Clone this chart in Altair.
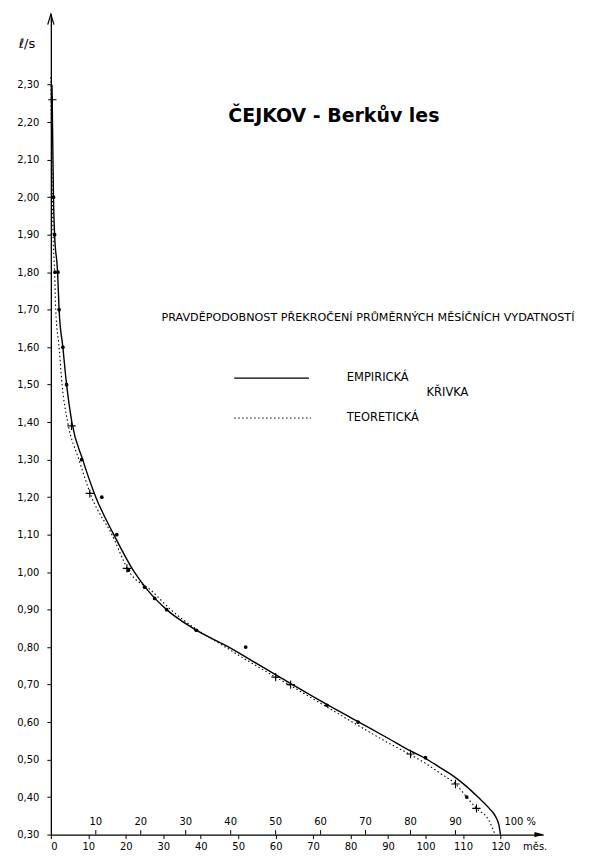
import altair as alt
import pandas as pd

# --- empirical curve (solid) ---
emp_x = [0.3, 0.5, 0.7, 1.0, 1.8, 2.2, 3.2, 4.2, 5.6, 8.5, 12.0, 16.8, 22.3, 26.0, 30.9,
         38.0, 47.5, 56.0, 64.5, 70.0, 80.0, 90.0, 96.0, 100.0, 104.0, 108.0, 111.0,
         114.0, 117.0, 118.6, 119.6, 120.0]
emp_y = [2.30, 2.15, 2.00, 1.90, 1.80, 1.70, 1.60, 1.50, 1.40, 1.30, 1.20, 1.10, 1.00, 0.95, 0.90,
         0.85, 0.80, 0.75, 0.70, 0.668, 0.612, 0.557, 0.523, 0.503, 0.478, 0.452, 0.428,
         0.400, 0.370, 0.350, 0.325, 0.30]

# --- theoretical curve (dotted) ---
teo_x = [0.0, 0.2, 0.4, 0.6, 1.0, 1.3, 2.2, 3.0, 4.5, 7.5, 10.9, 16.3, 21.0, 26.9, 32.0,
         38.5, 45.0, 52.0, 60.0, 64.0, 70.0, 80.0, 90.0, 96.0, 100.0, 104.0, 108.0,
         111.0, 113.6, 116.8, 118.6]
teo_y = [2.32, 2.15, 2.00, 1.90, 1.80, 1.70, 1.60, 1.50, 1.40, 1.30, 1.20, 1.10, 1.00, 0.95, 0.90,
         0.85, 0.81, 0.767, 0.72, 0.697, 0.662, 0.603, 0.545, 0.513, 0.49, 0.463, 0.435,
         0.40, 0.37, 0.34, 0.30]

# --- plotted points ---
dot_x = [0.7, 1.0, 1.1, 1.9, 2.2, 3.2, 4.2, 8.2, 13.6, 17.6, 20.7, 25.0, 27.7, 30.9,
         38.8, 52.0, 73.7, 82.0, 100.0, 111.0]
dot_y = [2.00, 1.90, 1.80, 1.80, 1.70, 1.60, 1.50, 1.30, 1.20, 1.10, 1.005, 0.96, 0.93, 0.90,
         0.845, 0.80, 0.645, 0.60, 0.505, 0.40]
cross_x = [0.4, 5.5, 10.4, 20.3, 60.0, 64.0, 96.0, 108.0, 113.6]
cross_y = [2.26, 1.39, 1.21, 1.01, 0.72, 0.70, 0.515, 0.435, 0.37]

# --- axes ---
y_ticks = [round(0.30 + 0.10 * i, 2) for i in range(21)]
x_ticks = list(range(0, 121, 10))
pct_ticks = [10, 20, 30, 40, 50, 60, 70, 80, 90]
X_MAX = 131.4
Y_MIN, Y_MAX = 0.30, 2.49

FONT = "DejaVu Sans"

emp = pd.DataFrame({"x": emp_x, "y": emp_y})
teo = pd.DataFrame({"x": teo_x, "y": teo_y})
dots = pd.DataFrame({"x": dot_x, "y": dot_y})
crosses = pd.DataFrame({"x": cross_x, "y": cross_y})
pct = pd.DataFrame({"p": pct_ticks, "x": [p * 1.2 for p in pct_ticks],
                    "lab": [str(p) for p in pct_ticks], "y": [Y_MIN] * len(pct_ticks),
                    "y2": [Y_MIN + 0.012] * len(pct_ticks)})

xs = alt.Scale(domain=[0, X_MAX], nice=False, zero=False)
ys = alt.Scale(domain=[Y_MIN, Y_MAX], nice=False, zero=False)

xax = alt.Axis(values=x_ticks, format="d", title=None, grid=False, domainColor="black",
               domainWidth=1.2, tickColor="black", tickSize=4, labelFont=FONT,
               labelFontSize=10, labelColor="black", labelPadding=3)
yax = alt.Axis(values=y_ticks, title=None, grid=False, domainColor="black", domainWidth=1.3,
               tickColor="black", tickSize=4, labelFont=FONT, labelFontSize=10,
               labelColor="black", labelPadding=8,
               labelExpr="replace(format(datum.value, '.2f'), '.', ',')")

base_emp = alt.Chart(emp).mark_line(color="black", strokeWidth=1.4, interpolate="monotone").encode(
    x=alt.X("x:Q", scale=xs, axis=xax),
    y=alt.Y("y:Q", scale=ys, axis=yax),
    order="x:Q",
)
line_teo = alt.Chart(teo).mark_line(color="black", strokeWidth=1.1, strokeDash=[1.5, 2.5],
                                    interpolate="monotone").encode(
    x=alt.X("x:Q", scale=xs), y=alt.Y("y:Q", scale=ys), order="x:Q")

pts = alt.Chart(dots).mark_point(filled=True, color="black", size=14, opacity=1).encode(
    x=alt.X("x:Q", scale=xs), y=alt.Y("y:Q", scale=ys))
crs = alt.Chart(crosses).mark_point(shape="M-1,0L1,0M0,-1L0,1", filled=False, color="black",
                                    size=70, strokeWidth=1.1, opacity=1).encode(
    x=alt.X("x:Q", scale=xs), y=alt.Y("y:Q", scale=ys))

pct_rules = alt.Chart(pct).mark_rule(color="black", strokeWidth=1).encode(
    x=alt.X("x:Q", scale=xs), y=alt.Y("y:Q", scale=ys), y2="y2:Q")
pct_labels = alt.Chart(pct).mark_text(font=FONT, fontSize=10, color="black", dy=-13).encode(
    x=alt.X("x:Q", scale=xs), y=alt.Y("y:Q", scale=ys), text="lab:N")

ends = pd.DataFrame({"x": [X_MAX, 0.0], "y": [Y_MIN, Y_MAX],
                     "s": ["right", "up"]})
arrow_r = alt.Chart(ends[ends.s == "right"]).mark_point(
    shape="M-1,-0.55L1,0L-1,0.55Z", filled=True, color="black", size=90, opacity=1,
    xOffset=-4).encode(x=alt.X("x:Q", scale=xs), y=alt.Y("y:Q", scale=ys))
arrow_u = alt.Chart(ends[ends.s == "up"]).mark_point(
    shape="M-0.6,1L0,-1L0.6,1", filled=False, color="black", size=110, strokeWidth=1.2,
    opacity=1, yOffset=6).encode(x=alt.X("x:Q", scale=xs), y=alt.Y("y:Q", scale=ys))

hundred = alt.Chart(pd.DataFrame({"x": [120.0], "y": [Y_MIN], "t": ["100 %"]})).mark_text(
    font=FONT, fontSize=10, color="black", align="left", dx=4, dy=-13).encode(
    x=alt.X("x:Q", scale=xs), y=alt.Y("y:Q", scale=ys), text="t:N")

def label(txt, x, y, size=10, weight="normal", align="left"):
    return alt.Chart(pd.DataFrame({"t": [txt]})).mark_text(
        font=FONT, fontSize=size, fontWeight=weight, color="black", align=align,
        baseline="middle").encode(x=alt.value(x), y=alt.value(y), text="t:N")

title = label("ČEJKOV - Berkův les", 284, 103, size=19, weight="bold", align="center")
heading = label("PRAVDĚPODOBNOST PŘEKROČENÍ PRŮMĚRNÝCH MĚSÍČNÍCH VYDATNOSTÍ", 111, 306, size=11.2)
emp_lab = label("EMPIRICKÁ", 297, 366, size=11.5)
kr_lab = label("KŘIVKA", 377, 381, size=11.5)
teo_lab = label("TEORETICKÁ", 297, 406, size=11.5)
unit_y = label("ℓ/s", -24, 31, size=13, align="center")
unit_x = label("měs.", 486, 836, size=10, align="center")

leg_solid = alt.Chart(pd.DataFrame({"a": [0]})).mark_rule(color="black", strokeWidth=1.3).encode(
    x=alt.value(184), x2=alt.value(259), y=alt.value(366))
leg_dot = alt.Chart(pd.DataFrame({"a": [0]})).mark_rule(color="black", strokeWidth=1.0,
                                                      strokeDash=[1.5, 2.5]).encode(
    x=alt.value(184), x2=alt.value(261), y=alt.value(406))

chart = alt.layer(
    base_emp, line_teo, pts, crs, pct_rules, pct_labels, arrow_r, arrow_u, hundred,
    title, heading, emp_lab, kr_lab, teo_lab, unit_y, unit_x, leg_solid, leg_dot,
).properties(
    width=494, height=824, autosize="none",
    padding={"left": 43, "top": 4, "right": 40, "bottom": 20},
    background="white",
).configure_view(stroke=None)

chart.save("out.html", embed_options={"renderer": "svg", "actions": False})
